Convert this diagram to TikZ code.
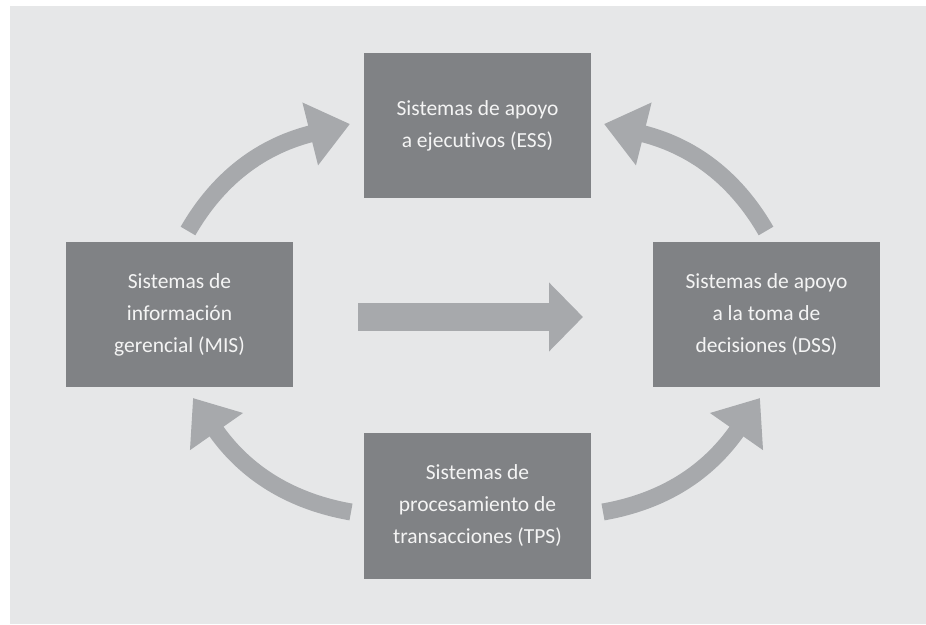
\documentclass[tikz,border=0pt]{standalone}
\usepackage{fontspec}
\setmainfont{Carlito}[Ligatures={NoCommon}]
\usetikzlibrary{arrows.meta}
\definecolor{bg}{HTML}{E6E7E8}
\definecolor{boxgray}{HTML}{808285}
\definecolor{arrgray}{HTML}{A7A9AC}
\definecolor{txt}{HTML}{F4F4F4}
\begin{document}
\begin{tikzpicture}[x=1pt,y=1pt,
  sysbox/.style={fill=boxgray, minimum width=227pt, minimum height=145pt, inner sep=0pt,
    text=txt, align=center, font=\fontsize{21.5}{32}\selectfont},
  curvearrow/.style={draw=arrgray, line width=17pt, -{Triangle[length=41pt,width=62pt]}},
  straightarrow/.style={draw=arrgray, line width=28pt, -{Triangle[length=34pt,width=67pt]}}]
\useasboundingbox (0,0) rectangle (926,624);
\fill[bg] (10,0) rectangle (926,618);
\node[sysbox] (ess) at (477.5,498.5) {Sistemas de apoyo\\a ejecutivos (ESS)};
\node[sysbox] (mis) at (179.5,309) {Sistemas de\\información\\gerencial (MIS)};
\node[sysbox] (dss) at (766.5,309) {Sistemas de apoyo\\a la toma de\\decisiones (DSS)};
\node[sysbox] (tps) at (477.5,118) {Sistemas de\\procesamiento de\\transacciones (TPS)};
\coordinate (a1s) at (188,393); \coordinate (a1e) at (350,500);
\coordinate (a2s) at (766,393); \coordinate (a2e) at (604,500);
\coordinate (a3s) at (351,112); \coordinate (a3e) at (193,226);
\coordinate (a4s) at (603,112); \coordinate (a4e) at (760,226);
\coordinate (hs) at (358,307); \coordinate (he) at (583,307);
\draw[curvearrow] (a1s) to[out=60,in=194] (a1e);
\draw[curvearrow] (a2s) to[out=120,in=-14] (a2e);
\draw[curvearrow] (a3s) to[out=170,in=-55] (a3e);
\draw[curvearrow] (a4s) to[out=10,in=-125] (a4e);
\draw[straightarrow] (hs) -- (he);
\end{tikzpicture}
\end{document}
